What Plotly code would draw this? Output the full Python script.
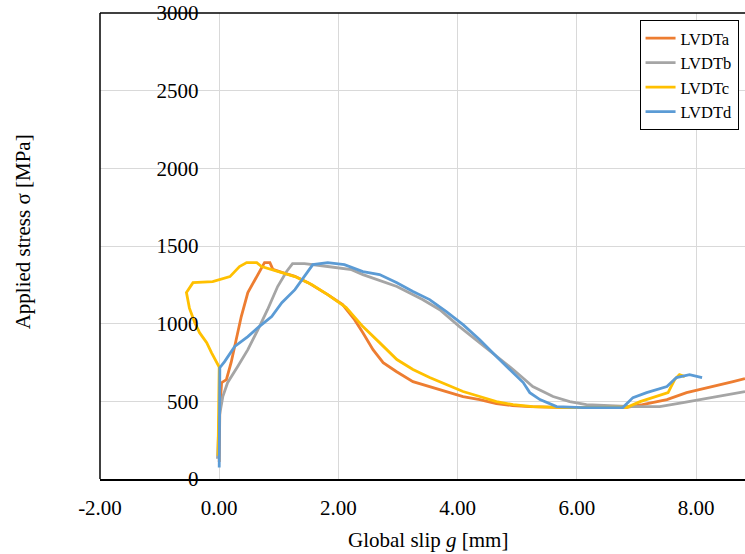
import plotly.graph_objects as go

# LVDTa (orange)
a_x = [0.00, 0.00, 0.01, 0.04, 0.12, 0.20, 0.29, 0.37, 0.48, 0.62, 0.76, 0.85, 0.90, 1.05, 1.27, 1.49, 1.82,
       2.07, 2.27, 2.41, 2.58, 2.75, 2.97, 3.25, 3.53, 3.81, 4.09, 4.37, 4.65, 4.92, 5.21, 5.83, 6.39, 6.84,
       7.10, 7.51, 7.84, 8.18, 8.62, 8.82]
a_y = [110, 255, 450, 620, 640, 750, 900, 1046, 1200, 1297, 1393, 1393, 1350, 1330, 1305, 1264, 1187,
       1123, 1026, 942, 833, 749, 692, 627, 595, 563, 531, 511, 486, 473, 466, 460, 460, 462,
       479, 511, 556, 589, 627, 646]

# LVDTb (gray)
b_x = [-0.03, -0.02, 0.00, 0.06, 0.14, 0.31, 0.48, 0.65, 0.81, 0.98, 1.13, 1.23, 1.43, 1.82, 2.22, 2.41,
       2.98, 3.41, 3.70, 4.03, 4.37, 4.65, 4.93, 5.26, 5.60, 5.88, 6.16, 6.94, 7.39, 7.78, 8.06, 8.51, 8.82]
b_y = [130, 250, 400, 530, 620, 724, 833, 962, 1090, 1239, 1336, 1387, 1387, 1368, 1348, 1316,
       1239, 1155, 1090, 981, 878, 788, 705, 595, 531, 498, 479, 466, 466, 492, 511, 544, 563]

# LVDTc (yellow)
c_x = [-0.02, -0.01, 0.00, -0.13, -0.21, -0.33, -0.41, -0.50, -0.55, -0.44, -0.11, 0.18, 0.34, 0.46, 0.63,
       0.71, 0.98, 1.27, 1.55, 1.82, 2.13, 2.41, 2.69, 2.98, 3.25, 3.53, 3.81, 4.09, 4.37, 4.65, 4.93,
       5.26, 5.83, 6.39, 6.84, 7.06, 7.34, 7.53, 7.64, 7.72, 7.81]
c_y = [150, 400, 720, 814, 878, 942, 1006, 1100, 1200, 1264, 1271, 1303, 1368, 1393, 1393,
       1368, 1335, 1303, 1252, 1187, 1103, 981, 878, 769, 705, 653, 608, 563, 531, 498, 479,
       466, 460, 460, 462, 498, 531, 556, 640, 672, 659]

# LVDTd (blue)
d_x = [0.00, 0.00, 0.01, 0.09, 0.26, 0.48, 0.65, 0.88, 1.05, 1.27, 1.43, 1.57, 1.82, 2.10, 2.41, 2.69,
       2.98, 3.25, 3.53, 3.81, 4.09, 4.37, 4.65, 4.93, 5.10, 5.21, 5.38, 5.66, 6.10, 6.77, 6.94, 7.17,
       7.51, 7.67, 7.89, 8.10]
d_y = [74, 400, 717, 756, 853, 917, 975, 1046, 1135, 1219, 1303, 1380, 1393, 1380, 1335, 1316,
       1264, 1207, 1155, 1078, 994, 897, 788, 685, 621, 556, 511, 466, 460, 460, 524, 556,
       595, 653, 672, 653]

x_ticks = [-2, 0, 2, 4, 6, 8]
x_labels = ["-2.00", "0.00", "2.00", "4.00", "6.00", "8.00"]

series = [("LVDTa", a_x, a_y, "#ED7D31"),
          ("LVDTb", b_x, b_y, "#A5A5A5"),
          ("LVDTc", c_x, c_y, "#FFC000"),
          ("LVDTd", d_x, d_y, "#5B9BD5")]

font = "Liberation Serif, Times New Roman, serif"

fig = go.Figure()
for name, xs, ys, col in series:
    fig.add_trace(go.Scatter(x=xs, y=ys, name=name, mode="lines",
                             line=dict(color=col, width=2.8)))

x0_frac = (219.5 - 100) / 645

fig.update_layout(
    width=745, height=554,
    margin=dict(l=100, r=0, t=13, b=75),
    paper_bgcolor="white", plot_bgcolor="white",
    font=dict(family=font, size=21, color="black"),
    showlegend=True,
    legend=dict(x=0.99, y=0.985, xanchor="right", yanchor="top",
                bordercolor="black", borderwidth=1, bgcolor="white",
                font=dict(size=16.5), itemwidth=30, tracegroupgap=0),
    xaxis=dict(range=[-2, 8.82], tickvals=x_ticks, ticktext=x_labels,
               showgrid=True, gridcolor="#d9d9d9", gridwidth=1,
               showline=True, linecolor="black", linewidth=1.5,
               zeroline=False, ticks="", ticklabelstandoff=9, automargin=False),
    yaxis=dict(range=[0, 3000], dtick=500, anchor="free", position=x0_frac,
               showgrid=True, gridcolor="#d9d9d9", gridwidth=1,
               showline=False, zeroline=False, ticks="", ticklabelstandoff=21,
               automargin=False),
    shapes=[
        dict(type="line", xref="paper", yref="paper", x0=0, x1=0, y0=0, y1=1,
             line=dict(color="black", width=1.5)),
        dict(type="line", xref="paper", yref="paper", x0=0, x1=1, y0=1, y1=1,
             line=dict(color="black", width=1.5)),
    ],
    annotations=[
        dict(text="Global slip <i>g</i> [mm]", xref="paper", yref="paper",
             x=(428 - 100) / 645, y=-0.13, xanchor="center", yanchor="middle",
             showarrow=False, font=dict(size=21)),
        dict(text="Applied stress σ [MPa]", xref="paper", yref="paper",
             x=-0.12, y=(479.5 - 232) / 466.5, xanchor="center", yanchor="middle",
             textangle=-90, showarrow=False, font=dict(size=21)),
    ],
)

fig.write_html("out.html", config={"displayModeBar": False},
               post_script="document.body.style.margin='0';")
